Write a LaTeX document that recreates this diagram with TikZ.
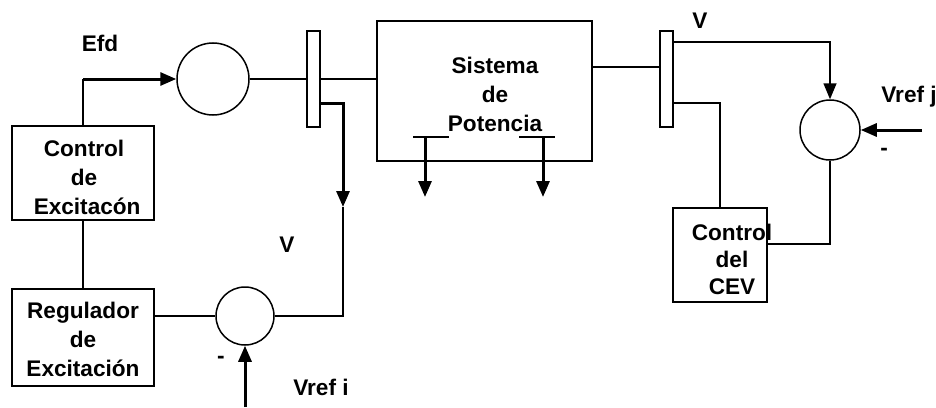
\documentclass[tikz,border=0pt]{standalone}
\usepackage{fontspec}
\setmainfont{Liberation Sans}
\usetikzlibrary{arrows.meta}
\begin{document}
\begin{tikzpicture}[x=0.5pt,y=-0.5pt,
  ln/.style={line width=0.75pt},
  thk/.style={line width=1.5pt},
  tip/.style={-{Triangle[length=8pt,width=6.5pt]}},
  blk/.style={draw,line width=0.9pt,fill=white,inner sep=0pt},
  sumc/.style={draw,circle,line width=0.75pt,fill=white,inner sep=0pt},
  lbl/.style={font=\bfseries\fontsize{11.3}{14.5}\selectfont,align=center,inner sep=0pt},
  lblc/.style={font=\bfseries\fontsize{11.3}{13.5}\selectfont,align=center,inner sep=0pt}]
\useasboundingbox (0,0) rectangle (936,407);
% blocks
\node[blk,minimum width=71pt,minimum height=47pt] (ctrl) at (83,173) {};
\node[blk,minimum width=71pt,minimum height=48.5pt] (reg) at (83,337.5) {};
\node[blk,minimum width=107.5pt,minimum height=70pt] (sis) at (484.5,91) {};
\node[blk,minimum width=6.5pt,minimum height=48pt] (bar1) at (313.5,79) {};
\node[blk,minimum width=6.5pt,minimum height=48pt] (bar2) at (666.5,79) {};
\node[blk,minimum width=47pt,minimum height=47pt] (cev) at (720,255) {};
\node[sumc,minimum size=36pt] (s1) at (213,79) {};
\node[sumc,minimum size=29pt] (s2) at (245,316) {};
\node[sumc,minimum size=30pt] (s3) at (830,130) {};
% texts
\node[lbl] (tctrl) at (84,177) {Control\\de\\\ Excitacón};
\node[lbl] (treg) at (83,339) {Regulador\\de\\Excitación};
\node[lbl] (tsis) at (495,94) {Sistema\\de\\Potencia};
\node[lblc] (tcev) at (732,259) {Control\\del\\CEV};
\node[lbl] (efd) at (100,43) {Efd};
\node[lbl] (v1) at (287,245) {V};
\node[lbl] (v2) at (700,21) {V};
\node[lbl] (vrj) at (909,97) {Vref j};
\node[lbl] (vri) at (321,387) {Vref i};
\node[lbl] (m1) at (221,360) {-};
\node[lbl] (m2) at (884,152) {-};
% coordinates
\coordinate (efdc) at (83,79);
\coordinate (b1o) at (320,103);
\coordinate (vc) at (343,103);
\coordinate (vmid) at (343,207);
\coordinate (vbot) at (343,316);
\coordinate (vrisrc) at (245,407);
\coordinate (sR) at (592,67);
\coordinate (b2L) at (660,67);
\coordinate (b2a) at (673,42);
\coordinate (b2ac) at (830,42);
\coordinate (vrjsrc) at (922,130);
\coordinate (b2b) at (673,103);
\coordinate (b2bc) at (720,103);
\coordinate (cevR) at (767,244);
\coordinate (la1a) at (413,137);
\coordinate (la1b) at (449,137);
\coordinate (la1s) at (425,137);
\coordinate (la1e) at (425,197);
\coordinate (la2a) at (519,137);
\coordinate (la2b) at (555,137);
\coordinate (la2s) at (543,137);
\coordinate (la2e) at (543,197);
% connectors
\draw[ln] (ctrl.north) -- (efdc);
\draw[thk,tip] (efdc) -- (s1.west);
\draw[ln] (s1.east) -- (bar1.west);
\draw[ln] (bar1.east) -- (bar1.east -| sis.west);
\draw[thk,tip] (b1o) -- (vc) -- (vmid);
\draw[ln] (vmid) -- (vbot) -- (s2.east);
\draw[ln] (s2.west) -- (s2.west -| reg.east);
\draw[ln] (ctrl.south) -- (reg.north);
\draw[thk,tip] (vrisrc) -- (s2.south);
\draw[ln] (sR) -- (b2L);
\draw[ln,tip] (b2a) -- (b2ac) -- (s3.north);
\draw[thk,tip] (vrjsrc) -- (s3.east);
\draw[ln] (b2b) -- (b2bc) -- (cev.north);
\draw[ln] (s3.south) |- (cevR);
\draw[ln] (la1a) -- (la1b);
\draw[ln] (la2a) -- (la2b);
\draw[thk,tip] (la1s) -- (la1e);
\draw[thk,tip] (la2s) -- (la2e);
\end{tikzpicture}
\end{document}
